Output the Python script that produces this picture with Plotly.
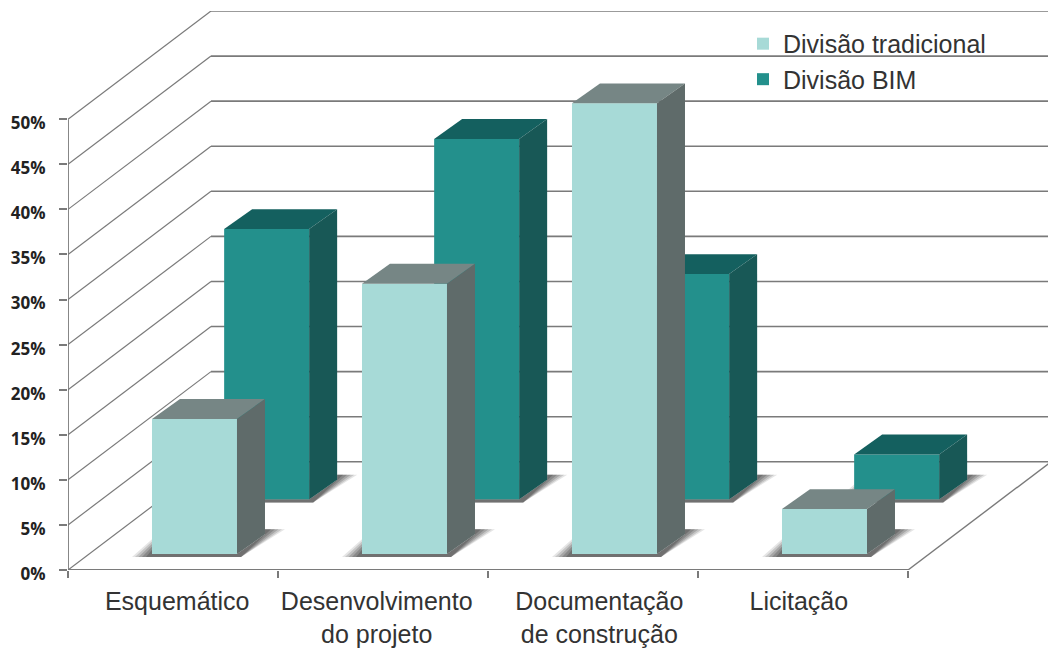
import plotly.graph_objects as go

# ---- data -------------------------------------------------------------
categories = ["Esquemático", "Desenvolvimento<br>do projeto", "Documentação<br>de construção", "Licitação"]
label_positions = [0.52, 1.47, 2.53, 3.48]
tradicional = [15, 30, 50, 5]
bim = [30, 40, 25, 5]
y_ticks = [0, 5, 10, 15, 20, 25, 30, 35, 40, 45, 50]
y_labels = [f"{v}%" for v in y_ticks]

# ---- oblique projection, in axis units ---------------------------------
PX = 1 / 210          # x units per pixel
PY = 1 / 9.08         # y units per pixel
X_MAX = 980 * PX
Y_MAX = 563 * PY
WALL_X, WALL_Y = 143 * PX, 109 * PY     # depth of the whole chart box
BAR_DX, BAR_DY = 28 * PX, 20 * PY       # depth of a bar
BAR_W = 85 * PX
BAR_START = 0.30
DEPTH = {"trad": 0.1468, "bim": 0.6514}  # position of series along depth axis

LINE = "#7a7a7a"
COL = {
    "trad": dict(front="#a7dad7", top="#768685", side="#5f6b6a"),
    "bim": dict(front="#23908c", top="#14605f", side="#185856"),
}


def poly(pts, color, xa, ya, opacity=1.0):
    return go.Scatter(
        x=[p[0] for p in pts] + [pts[0][0]], y=[p[1] for p in pts] + [pts[0][1]],
        mode="lines", fill="toself", fillcolor=color, line=dict(width=0),
        opacity=opacity, showlegend=False, hoverinfo="skip", xaxis=xa, yaxis=ya,
    )


def series(key, name, values, xa, ya):
    d = DEPTH[key]
    sx, sy = d * WALL_X, d * WALL_Y
    c = COL[key]
    traces = [go.Bar(
        x=[i + BAR_START + sx + BAR_W / 2 for i in range(len(values))],
        y=values, base=[sy] * len(values), width=BAR_W, name=name, legendgroup=key,
        marker=dict(color=c["front"], line=dict(width=0)), xaxis=xa, yaxis=ya,
        hovertemplate=name + ": %{y}%<extra></extra>",
    )]
    for i, v in enumerate(values):
        x0 = i + BAR_START + sx
        x1 = x0 + BAR_W
        y0, top = sy, sy + v
        # soft ground shadow: nested shapes fading outwards
        for k, op in ((1.0, 0.12), (0.85, 0.16), (0.68, 0.2), (0.5, 0.22), (0.3, 0.25)):
            traces.append(poly([
                (x0 - 20 * k * PX, y0 - 3 * PY),
                (x1 + 4 * PX, y0 - 3 * PY),
                (x1 + BAR_DX + 20 * k * PX, y0 + BAR_DY + 5 * PY),
                (x1 + BAR_DX, y0 + BAR_DY + 5 * PY),
                (x1 + BAR_DX, y0 + BAR_DY),
                (x1, y0),
                (x0, y0),
                (x0, y0 + 15 * k * PY),
            ], "#262626", xa, ya, op))
        traces.append(poly([(x0, top), (x1, top), (x1 + BAR_DX, top + BAR_DY), (x0 + BAR_DX, top + BAR_DY)], c["top"], xa, ya))
        traces.append(poly([(x1, y0), (x1 + BAR_DX, y0 + BAR_DY), (x1 + BAR_DX, top + BAR_DY), (x1, top)], c["side"], xa, ya))
    return traces


fig = go.Figure()
for t in series("trad", "Divisão tradicional", tradicional, "x2", "y2"):
    fig.add_trace(t)
for t in series("bim", "Divisão BIM", bim, "x", "y"):
    fig.add_trace(t)

# ---- walls and floor ---------------------------------------------------
shapes = []


def seg(x0, y0, x1, y1, w=1.5):
    shapes.append(dict(type="line", xref="x", yref="y", x0=x0, y0=y0, x1=x1, y1=y1,
                       layer="below", line=dict(color=LINE, width=w)))


n = len(categories)
for v in y_ticks:
    seg(0, v, WALL_X, v + WALL_Y, 1.2)
    seg(WALL_X, v + WALL_Y, X_MAX, v + WALL_Y, 1.6)
seg(0, 0, 0, y_ticks[-1], 1.8)
seg(0, 0, n, 0, 1.8)
seg(n, 0, n + WALL_X, WALL_Y, 1.4)

fig.update_layout(
    width=1048, height=648, autosize=False,
    margin=dict(l=68, r=0, t=11, b=74),
    paper_bgcolor="white", plot_bgcolor="white",
    barmode="overlay", shapes=shapes,
    font=dict(family="Liberation Sans, Arial, sans-serif", color="#333333"),
    xaxis=dict(
        range=[0, X_MAX], showgrid=False, zeroline=False, showline=False,
        tickmode="array", tickvals=label_positions, ticktext=categories,
        ticks="", ticklabelstandoff=14,
        tickfont=dict(size=25, color="#333333"),
        minor=dict(tickmode="array", tickvals=list(range(n + 1)), ticks="outside",
                   ticklen=7, tickwidth=1.5, tickcolor=LINE, showgrid=False),
    ),
    yaxis=dict(
        range=[0, Y_MAX], showgrid=False, zeroline=False, showline=False,
        tickmode="array", tickvals=y_ticks, ticktext=y_labels,
        ticks="outside", ticklen=8, tickwidth=1.5, tickcolor=LINE,
        ticklabelstandoff=10, ticklabelshift=4,
        tickfont=dict(family="Open Sans, sans-serif", size=17, color="#222222", weight="bold"),
    ),
    xaxis2=dict(range=[0, X_MAX], overlaying="x", anchor="y2", visible=False),
    yaxis2=dict(range=[0, Y_MAX], overlaying="y", anchor="x2", visible=False),
    legend=dict(
        x=(743 - 68) / 980, y=1 - 10 / 563, xanchor="left", yanchor="top",
        bgcolor="rgba(0,0,0,0)", font=dict(size=25, color="#333333"),
        tracegroupgap=0, traceorder="normal",
    ),
)
fig.write_html("out.html", config={"displayModeBar": False},
               post_script="document.body.style.margin='0';")
